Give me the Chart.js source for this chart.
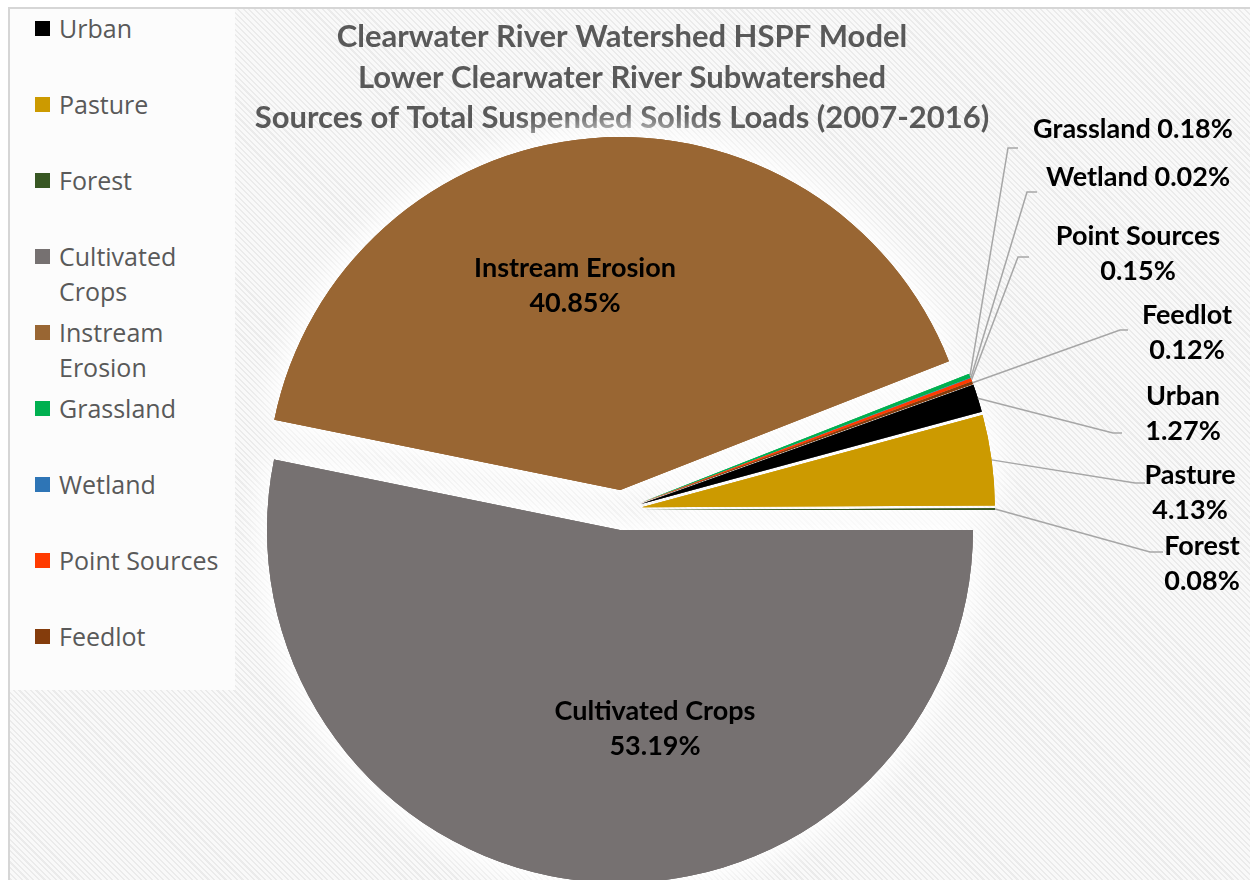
<!DOCTYPE html>
<html>
<head>
<meta charset="utf-8">
<title>Clearwater River Watershed HSPF Model</title>
<script src="https://cdn.jsdelivr.net/npm/chart.js@4.4.1/dist/chart.umd.min.js"></script>
<style>
  html, body { margin: 0; padding: 0; background: #fff; }
  #wrap { position: relative; width: 1250px; height: 880px; overflow: hidden; }
  #frame {
    position: absolute; left: 8px; top: 7px; right: 0; bottom: 0;
    border-left: 2px solid #d6d6d6; border-top: 2px solid #d6d6d6;
    background: repeating-linear-gradient(45deg, #ebebeb 0px, #ebebeb 1.5px, #f9f9f9 1.5px, #f9f9f9 4px);
  }
  #legend {
    position: absolute; left: 10px; top: 9px; width: 225px; height: 681px;
    background: #fcfcfc; font-family: 'Open Sans', sans-serif; font-size: 25px; color: #595959;
  }
  .box { position: absolute; left: 25px; width: 15px; height: 15px; }
  .txt { position: absolute; left: 49px; width: 174px; line-height: 35px; }
  canvas { position: absolute; left: 0; top: 0; }
</style>
</head>
<body>
<div id="wrap">
  <div id="frame"></div>
  <canvas id="pie" width="1250" height="880"></canvas>
  <div id="legend"></div>
</div>
<script>
// TSS load sources, legend order (= clockwise drawing order)
const sources = ['Urban', 'Pasture', 'Forest', 'Cultivated Crops', 'Instream Erosion',
                 'Grassland', 'Wetland', 'Point Sources', 'Feedlot'];
const loads = [1.27, 4.13, 0.08, 53.19, 40.85, 0.18, 0.02, 0.15, 0.12];
const colors = ['#000000', '#cc9a00', '#385723', '#767171', '#996633',
                '#00b050', '#2e75b6', '#ff3b00', '#843c0c'];
const titleLines = ['Clearwater River Watershed HSPF Model',
                    'Lower Clearwater River Subwatershed',
                    'Sources of Total Suspended Solids Loads (2007-2016)'];

// where each data label sits (and its leader line elbow)
const labelSpots = [
  {x: 1183, y: 396, elbow: [1113, 433], end: 1122},
  {x: 1190, y: 475, elbow: [1135, 483], end: 1145},
  {x: 1202, y: 546, elbow: [1150, 552], end: 1163},
  {x: 655, y: 711},
  {x: 575, y: 268},
  {x: 1133, y: 129, oneLine: true, elbow: [1008, 148], end: 1018},
  {x: 1138, y: 177, oneLine: true, elbow: [1027, 192], end: 1037},
  {x: 1138, y: 236, elbow: [1018, 257], end: 1029},
  {x: 1187, y: 315, elbow: [1120, 330], end: 1128}
];

const explodePx = 20;
const total = loads.reduce((a, b) => a + b, 0);
// Cultivated Crops starts at 3 o'clock
const rotation = 90 - 360 * (loads[0] + loads[1] + loads[2]) / total;

// build html legend
const legendEl = document.getElementById('legend');
sources.forEach((name, i) => {
  const box = document.createElement('div');
  box.className = 'box';
  box.style.top = (11.5 + 76 * i) + 'px';
  box.style.background = colors[i];
  const txt = document.createElement('div');
  txt.className = 'txt';
  txt.style.top = (1.5 + 76 * i) + 'px';
  txt.textContent = name;
  legendEl.appendChild(box);
  legendEl.appendChild(txt);
});

// move every slice out along its bisector, plus a soft white glow behind the pie
const explode = {
  id: 'explode',
  afterDatasetUpdate(chart, args) {
    args.meta.data.forEach(arc => {
      if (arc.exploded) return;
      const baseDraw = arc.draw;
      arc.draw = function (ctx) {
        const mid = (this.startAngle + this.endAngle) / 2;
        ctx.save();
        ctx.translate(Math.cos(mid) * explodePx, Math.sin(mid) * explodePx);
        baseDraw.call(this, ctx);
        ctx.restore();
      };
      arc.exploded = true;
    });
  },
  beforeDatasetsDraw(chart) {
    const ctx = chart.ctx;
    const arcs = chart.getDatasetMeta(0).data;
    ctx.save();
    ctx.shadowColor = 'rgba(255,255,255,1)';
    ctx.shadowBlur = 34;
    arcs.forEach(arc => arc.draw(ctx));
    arcs.forEach(arc => arc.draw(ctx));
    ctx.restore();
  }
};

// data labels with leader lines
const sliceLabels = {
  id: 'sliceLabels',
  afterDatasetsDraw(chart) {
    const ctx = chart.ctx;
    const arcs = chart.getDatasetMeta(0).data;
    ctx.save();
    ctx.font = 'bold 27px Lato';
    ctx.fillStyle = '#000';
    ctx.textAlign = 'center';
    ctx.textBaseline = 'middle';
    ctx.strokeStyle = '#a6a6a6';
    ctx.lineWidth = 1.5;
    arcs.forEach((arc, i) => {
      const spot = labelSpots[i];
      const pct = loads[i].toFixed(2) + '%';
      if (spot.elbow) {
        const mid = (arc.startAngle + arc.endAngle) / 2;
        const r = arc.outerRadius + explodePx;
        ctx.beginPath();
        ctx.moveTo(arc.x + Math.cos(mid) * r, arc.y + Math.sin(mid) * r);
        ctx.lineTo(spot.elbow[0], spot.elbow[1]);
        ctx.lineTo(spot.end, spot.elbow[1]);
        ctx.stroke();
      }
      const lines = spot.oneLine ? [sources[i] + ' ' + pct] : [sources[i], pct];
      lines.forEach((t, k) => ctx.fillText(t, spot.x, spot.y + k * 35));
    });
    ctx.restore();
  }
};

const chart = new Chart(document.getElementById('pie'), {
  type: 'pie',
  data: {
    labels: sources,
    datasets: [{
      data: loads,
      backgroundColor: colors,
      borderWidth: 0
    }]
  },
  options: {
    responsive: false,
    animation: false,
    events: [],
    rotation: rotation,
    radius: 353,
    layout: { padding: { left: 0, right: 6, top: 0, bottom: 0 } },
    plugins: {
      legend: { display: false },
      tooltip: { enabled: false },
      title: {
        display: true,
        text: titleLines,
        color: '#595959',
        font: { family: 'Lato', size: 31, weight: 'bold', lineHeight: '40.5px' },
        padding: { top: 17, bottom: 1.5 }
      }
    }
  },
  plugins: [explode, sliceLabels]
});
</script>
</body>
</html>
